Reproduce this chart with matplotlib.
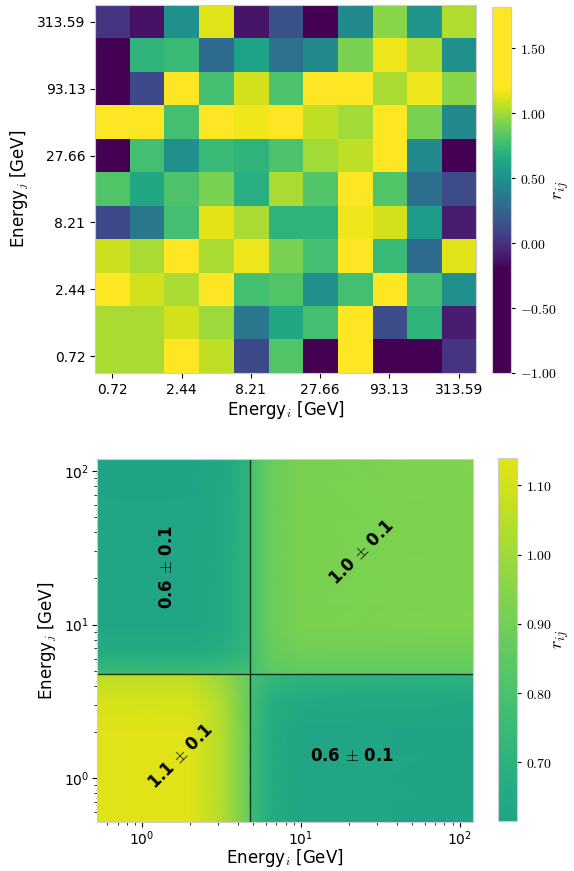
import numpy as np
import matplotlib
matplotlib.use("Agg")
import matplotlib.pyplot as plt
from matplotlib.colors import ListedColormap
from matplotlib.ticker import FuncFormatter

plt.rcParams['mathtext.fontset'] = 'cm'
plt.rcParams['font.family'] = ['DejaVu Sans']

# ---------------- data: top heatmap (rows top -> bottom) ----------------
energy_labels = ["0.72", "2.44", "8.21", "27.66", "93.13", "313.59"]
r_matrix = [
    [0.01, -0.13, 0.50, 1.13, -0.12, 0.15, -0.55, 0.47, 0.95, 0.53, 1.03],
    [-0.70, 0.71, 0.75, 0.29, 0.61, 0.33, 0.47, 0.92, 1.16, 1.03, 0.50],
    [-0.45, 0.11, 1.45, 0.78, 1.10, 0.81, 1.30, 1.38, 1.02, 1.16, 0.95],
    [1.60, 1.35, 0.78, 1.28, 1.17, 1.42, 1.06, 1.00, 1.80, 0.92, 0.47],
    [-0.80, 0.78, 0.50, 0.75, 0.71, 0.81, 1.00, 1.06, 1.50, 0.47, -0.40],
    [0.82, 0.64, 0.81, 0.92, 0.68, 1.02, 0.82, 1.40, 0.82, 0.32, 0.12],
    [0.11, 0.36, 0.78, 1.14, 1.02, 0.71, 0.71, 1.16, 1.10, 0.57, -0.09],
    [1.09, 1.02, 1.32, 1.02, 1.16, 0.92, 0.78, 1.55, 0.75, 0.29, 1.13],
    [1.25, 1.10, 1.02, 1.36, 0.78, 0.82, 0.50, 0.78, 1.48, 0.78, 0.50],
    [1.02, 1.02, 1.10, 0.99, 0.36, 0.64, 0.78, 1.62, 0.12, 0.71, -0.09],
    [1.02, 1.02, 1.70, 1.06, 0.11, 0.82, -1.00, 1.42, -0.35, -0.65, 0.01],
]
top_cbar_ticks = [-1.0, -0.5, 0.0, 0.5, 1.0, 1.5]

# ---------------- data: bottom smooth map ----------------
grid_x = [0.52, 2.0, 3.2, 4.79, 4.81, 6.5, 10.0, 121.0]
grid_y = [0.52, 2.0, 3.2, 4.79, 4.81, 6.5, 10.0, 121.0]
# rows: y low -> high ; columns: x low -> high
r_field = [
    [1.13, 1.13, 1.04, 0.86, 0.76, 0.66, 0.63, 0.615],
    [1.13, 1.13, 1.04, 0.86, 0.76, 0.66, 0.63, 0.615],
    [1.11, 1.11, 1.03, 0.86, 0.77, 0.68, 0.65, 0.64],
    [1.05, 1.05, 0.98, 0.85, 0.79, 0.73, 0.71, 0.70],
    [0.75, 0.75, 0.76, 0.78, 0.79, 0.84, 0.85, 0.85],
    [0.66, 0.66, 0.68, 0.73, 0.79, 0.87, 0.89, 0.89],
    [0.63, 0.63, 0.65, 0.71, 0.79, 0.88, 0.92, 0.93],
    [0.62, 0.62, 0.64, 0.71, 0.79, 0.88, 0.92, 0.93],
]
split_energy = 4.8
bottom_cbar_ticks = [0.70, 0.80, 0.90, 1.00, 1.10]
annotations = [
    ("0.6 $\\pm$ 0.1", 1.43, 23.6, 90),
    ("1.0 $\\pm$ 0.1", 24.3, 29.5, 45),
    ("1.1 $\\pm$ 0.1", 1.75, 1.39, 45),
    ("0.6 $\\pm$ 0.1", 21.0, 1.39, 0),
]

# viridis clipped to a fixed range, shown over a wider colorbar range
def clipped_viridis(lo, hi, a=-0.2, b=1.2, n=512):
    v = np.linspace(lo, hi, n)
    t = np.clip((v - a) / (b - a), 0, 1)
    return ListedColormap(plt.cm.viridis(t))

spine_col = "#cccccc"
cb_fmt = FuncFormatter(lambda v, p: "$%.2f$" % v)

fig = plt.figure(figsize=(5.74, 8.71), dpi=100)

# ---------------- top ----------------
ax1 = fig.add_axes([0.1655, 0.5718, 0.6638, 0.4225])
mat = np.array(r_matrix)
vmin1, vmax1 = -1.0, 1.82
cm1 = clipped_viridis(vmin1, vmax1)
im1 = ax1.imshow(mat, cmap=cm1, vmin=vmin1, vmax=vmax1, aspect='auto',
                 interpolation='nearest')
n = mat.shape[0]
ax1.set_xticks(np.arange(0, n, 2))
ax1.set_xticklabels(energy_labels, fontsize=10)
ax1.set_yticks(np.arange(0, n, 2))
ax1.set_yticklabels(energy_labels[::-1], fontsize=10)
ax1.set_xlabel("Energy$_i$ [GeV]", fontsize=12, labelpad=2)
ax1.set_ylabel("Energy$_j$ [GeV]", fontsize=12)
for s in ax1.spines.values():
    s.set_color(spine_col)

cax1 = fig.add_axes([0.8566, 0.5718, 0.0331, 0.4202])
cb1 = fig.colorbar(im1, cax=cax1, ticks=top_cbar_ticks)
cb1.ax.yaxis.set_major_formatter(cb_fmt)
cb1.ax.tick_params(labelsize=10, length=3)
cb1.outline.set_edgecolor(spine_col)
cb1.set_label("$r_{ij}$", fontsize=13)
cb1.ax.yaxis.set_label_coords(3.2, 0.5)

# ---------------- bottom ----------------
ax2 = fig.add_axes([0.169, 0.0563, 0.655, 0.417])
vmin2, vmax2 = 0.615, 1.14
cm2 = clipped_viridis(vmin2, vmax2)
X, Y = np.meshgrid(grid_x, grid_y)
pm = ax2.pcolormesh(X, Y, np.array(r_field), shading='gouraud', cmap=cm2,
                    vmin=vmin2, vmax=vmax2, rasterized=True)
ax2.set_xscale('log')
ax2.set_yscale('log')
ax2.set_xlim(0.52, 121)
ax2.set_ylim(0.52, 120)
ax2.axvline(split_energy, color='k', lw=1, alpha=0.75)
ax2.axhline(split_energy, color='k', lw=1, alpha=0.75)
for txt, x, y, rot in annotations:
    ax2.text(x, y, txt, rotation=rot, ha='center', va='center',
             fontsize=12, fontweight='bold', rotation_mode='anchor')
ax2.tick_params(labelsize=10, pad=2)
ax2.set_xlabel("Energy$_i$ [GeV]", fontsize=12)
ax2.xaxis.set_label_coords(0.5, -0.069)
ax2.set_ylabel("Energy$_j$ [GeV]", fontsize=12)
for s in ax2.spines.values():
    s.set_color(spine_col)

cax2 = fig.add_axes([0.8676, 0.0574, 0.0331, 0.417])
cb2 = fig.colorbar(pm, cax=cax2, ticks=bottom_cbar_ticks)
cb2.ax.yaxis.set_major_formatter(cb_fmt)
cb2.ax.tick_params(labelsize=10, length=3)
cb2.outline.set_edgecolor(spine_col)
cb2.set_label("$r_{ij}$", fontsize=13)
cb2.ax.yaxis.set_label_coords(2.9, 0.5)

fig.savefig("out.png", dpi=100)
